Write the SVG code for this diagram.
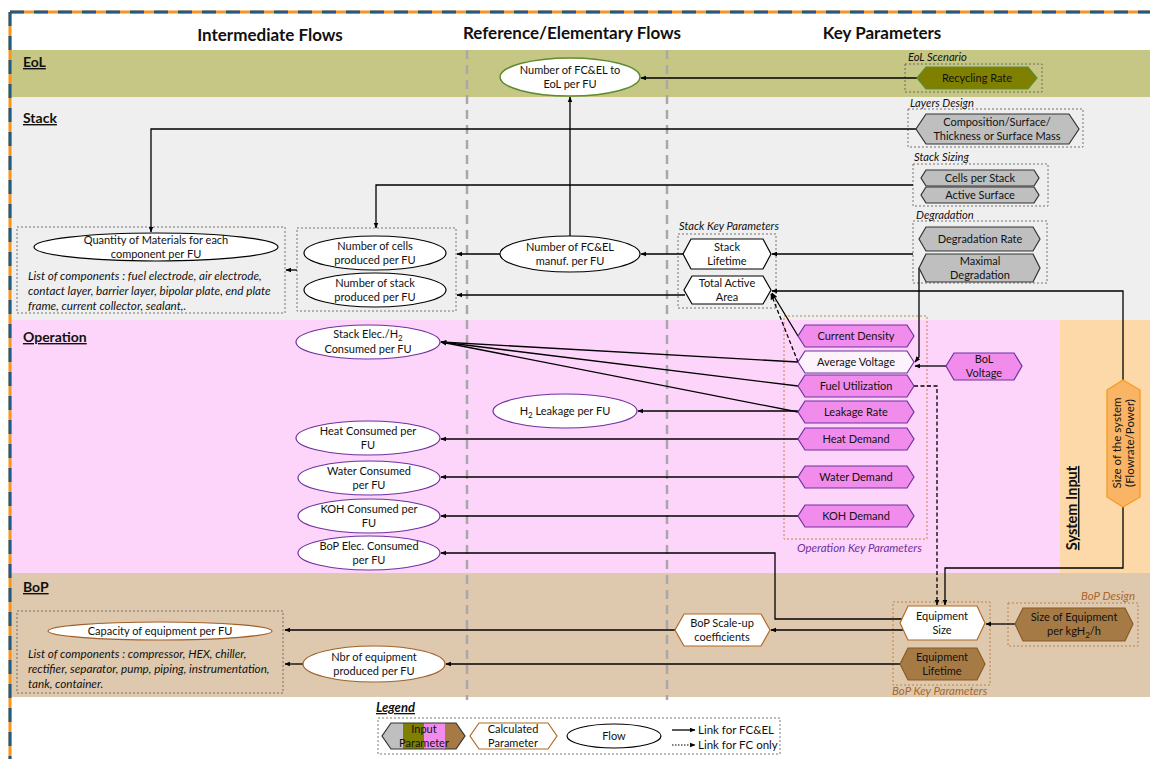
<svg xmlns="http://www.w3.org/2000/svg" width="1150" height="759" viewBox="0 0 1150 759">
<defs>
<marker id="a" viewBox="0 0 10 10" refX="9" refY="5" markerWidth="6" markerHeight="6" orient="auto" markerUnits="userSpaceOnUse"><path d="M0,1 L10,5 L0,9 z" fill="#000"/></marker>
<clipPath id="lg"><polygon points="391,723 456,723 465,736 456,749 391,749 382,736"/></clipPath>
</defs>
<style>
text{font-family:Lato,"Open Sans","Liberation Sans",sans-serif;fill:#111}
.t{font-size:11px;text-anchor:middle}
.h{font-size:17px;font-weight:bold;text-anchor:middle}
.sec{font-size:14px;font-weight:bold;text-decoration:underline}
.lab{font-size:11.2px;font-style:italic}
.lst{font-size:11.7px;font-style:italic}
.box{fill:none;stroke:#555;stroke-width:0.8;stroke-dasharray:2 2}
.obox{fill:none;stroke:#c0783a;stroke-width:0.9;stroke-dasharray:2 2}
.c{fill:none;stroke:#000;stroke-width:1.3}
.d{fill:none;stroke:#000;stroke-width:1.3;stroke-dasharray:4 2.5}
.gray{fill:#bfbfbf;stroke:#333;stroke-width:1.2}
.pink{fill:#f28cec;stroke:#7030a0;stroke-width:1.2}
.wp{fill:#fdf3fd;stroke:#7030a0;stroke-width:1.2}
.wb{fill:#fff;stroke:#000;stroke-width:1.2}
.brn{fill:#a67a45;stroke:#8a5a22;stroke-width:1.2}
.wbr{fill:#fff;stroke:#b06a25;stroke-width:1.2}
.ef{fill:#fff;stroke:#000;stroke-width:1.2}
.ep{fill:#fff;stroke:#7030a0;stroke-width:1.2}
.eb{fill:#fff;stroke:#a0602a;stroke-width:1.2}
.sep{stroke:#a8a8a8;stroke-width:2.5;stroke-dasharray:9 6}
</style>
<rect x="0" y="0" width="1150" height="759" fill="#fff"/>
<g id="bands">
<rect x="11" y="50" width="1139" height="47" fill="#c6c784"/>
<rect x="11" y="97" width="1139" height="223" fill="#efefef"/>
<rect x="11" y="320" width="1049" height="253" fill="#fdd5fa"/>
<rect x="1060" y="320" width="90" height="253" fill="#fdd8a9"/>
<rect x="11" y="573" width="1139" height="124" fill="#dfc9ae"/>
</g>
<g id="border">
<path d="M10,12 H1150 M10,12 V759" fill="none" stroke="#f7941d" stroke-width="3"/>
<path d="M10,12 H1150 M10,12 V759" fill="none" stroke="#1c5b8a" stroke-width="3" stroke-dasharray="14 10"/>
</g>
<g id="separators">
<line class="sep" x1="467" y1="50" x2="467" y2="700"/>
<line class="sep" x1="667" y1="50" x2="667" y2="700"/>
</g>
<g id="headers">
<text class="h" x="270" y="41">Intermediate Flows</text>
<text class="h" x="572" y="39">Reference/Elementary Flows</text>
<text class="h" x="882" y="39">Key Parameters</text>
<text class="sec" x="23" y="67">EoL</text>
<text class="sec" x="23" y="123">Stack</text>
<text class="sec" x="23" y="342">Operation</text>
<text class="sec" x="23" y="592">BoP</text>
<text class="sec" transform="translate(1077,508) rotate(-90)" text-anchor="middle" style="font-size:14.5px">System Input</text>
</g>
<g id="groups">
<rect class="box" x="905" y="64" width="137" height="28"/><text class="lab" x="908" y="61">EoL Scenario</text>
<rect class="box" x="908" y="109" width="175" height="38"/><text class="lab" x="910" y="107">Layers Design</text>
<rect class="box" x="913" y="164" width="135" height="42"/><text class="lab" x="914" y="161">Stack Sizing</text>
<rect class="box" x="913" y="221" width="134" height="62"/><text class="lab" x="916" y="219">Degradation</text>
<rect class="box" x="678" y="234" width="98" height="74"/><text class="lab" x="679" y="230">Stack Key Parameters</text>
<rect class="box" x="17" y="227" width="268" height="86"/>
<rect class="box" x="297" y="228" width="159" height="83"/>
<rect class="obox" x="784" y="316" width="143" height="223"/><text class="lab" x="797" y="552" style="fill:#7030a0;font-size:11.5px">Operation Key Parameters</text>
<rect class="obox" x="893" y="602" width="97" height="83"/><text class="lab" x="892" y="695" style="fill:#a8662a;font-size:11.5px">BoP Key Parameters</text>
<rect class="obox" x="1008" y="603" width="130" height="43"/><text class="lab" x="1135" y="600" text-anchor="end" style="fill:#a8662a;font-size:11.5px">BoP Design</text>
<rect class="box" x="17" y="611" width="266" height="82"/>
<text class="lst" x="28" y="280">List of components : fuel electrode, air electrode,</text>
<text class="lst" x="28" y="295">contact layer, barrier  layer, bipolar plate, end plate</text>
<text class="lst" x="28" y="310">frame, current collector, sealant,.</text>
<text class="lst" x="28" y="658">List of components : compressor, HEX, chiller,</text>
<text class="lst" x="28" y="673">rectifier, separator, pump, piping, instrumentation,</text>
<text class="lst" x="28" y="688">tank, container.</text>
</g>
<g id="connectors">
<path class="c" d="M917,78 H641" marker-end="url(#a)"/>
<path class="c" d="M570,236 V97" marker-end="url(#a)"/>
<path class="c" d="M916,129 H151 V232" marker-end="url(#a)"/>
<path class="c" d="M913,185 H376 V228" marker-end="url(#a)"/>
<path class="c" d="M913,254 H772" marker-end="url(#a)"/>
<path class="c" d="M683,254 H641" marker-end="url(#a)"/>
<path class="c" d="M500,254 H457" marker-end="url(#a)"/>
<path class="c" d="M685,295 H457" marker-end="url(#a)"/>
<path class="c" d="M297,270 H286" marker-end="url(#a)"/>
<path class="c" d="M919,268 V357 L915,362" marker-end="url(#a)"/>
<path class="c" d="M946,366 H915" marker-end="url(#a)"/>
<path class="c" d="M1123,380 V291 H772" marker-end="url(#a)"/>
<path class="c" d="M798,336 L772,293" marker-end="url(#a)"/>
<path class="d" d="M798,362 L771,294" marker-end="url(#a)"/>
<path class="c" d="M798,362 L441,342" marker-end="url(#a)"/>
<path class="c" d="M798,386 L441,342" marker-end="url(#a)"/>
<path class="c" d="M798,412 L441,342" marker-end="url(#a)"/>
<path class="c" d="M798,411 H638" marker-end="url(#a)"/>
<path class="c" d="M798,439 H441" marker-end="url(#a)"/>
<path class="c" d="M798,477 H441" marker-end="url(#a)"/>
<path class="c" d="M798,516 H441" marker-end="url(#a)"/>
<path class="c" d="M902,619 H775 V553 H441" marker-end="url(#a)"/>
<path class="d" d="M914,386 H937 V605" marker-end="url(#a)"/>
<path class="c" d="M1123,507 V568 H945 V605" marker-end="url(#a)"/>
<path class="c" d="M1015,624 H986" marker-end="url(#a)"/>
<path class="c" d="M903,630 H771" marker-end="url(#a)"/>
<path class="c" d="M675,630 H285" marker-end="url(#a)"/>
<path class="c" d="M900,664 H446" marker-end="url(#a)"/>
<path class="c" d="M303,664 H285" marker-end="url(#a)"/>
</g>
<g id="n-eol-flow"><ellipse cx="570" cy="77" rx="70" ry="19" fill="#fff" stroke="#5e8c31" stroke-width="1.5"/><text class="t" x="570" y="74">Number of FC&amp;EL to</text><text class="t" x="570" y="88">EoL per FU</text></g>
<g id="n-recycling"><polygon points="926,67 1028,67 1037,78 1028,89 926,89 917,78" fill="#808000" stroke="#5e8c31" stroke-width="1.2"/><text class="t" x="977" y="82">Recycling Rate</text></g>
<g id="n-composition"><polygon class="gray" points="926,114 1069,114 1079,129 1069,144 926,144 916,129"/><text class="t" x="997" y="126">Composition/Surface/</text><text class="t" x="997" y="140">Thickness or Surface Mass</text></g>
<g id="n-cells-stack"><polygon class="gray" points="926,170 1034,170 1039,178 1034,186 926,186 921,178"/><text class="t" x="980" y="182">Cells per Stack</text></g>
<g id="n-active-surface"><polygon class="gray" points="926,187 1034,187 1039,195 1034,203 926,203 921,195"/><text class="t" x="980" y="199">Active Surface</text></g>
<g id="n-deg-rate"><polygon class="gray" points="926,227 1033,227 1040,239 1033,251 926,251 919,239"/><text class="t" x="980" y="243">Degradation Rate</text></g>
<g id="n-max-deg"><polygon class="gray" points="926,254 1033,254 1040,268 1033,282 926,282 919,268"/><text class="t" x="980" y="265">Maximal</text><text class="t" x="980" y="279">Degradation</text></g>
<g id="n-stack-lifetime"><polygon class="wb" points="691,239 763,239 771,254 763,269 691,269 683,254"/><text class="t" x="727" y="251">Stack</text><text class="t" x="727" y="265">Lifetime</text></g>
<g id="n-total-area"><polygon class="wb" points="692,276 763,276 771,290 763,304 692,304 684,290"/><text class="t" x="727" y="287">Total Active</text><text class="t" x="727" y="301">Area</text></g>
<g id="n-fcel-manuf"><ellipse class="ef" cx="570" cy="254" rx="70" ry="18"/><text class="t" x="570" y="251">Number of FC&amp;EL</text><text class="t" x="570" y="265">manuf. per FU</text></g>
<g id="n-cells"><ellipse class="ef" cx="375" cy="253" rx="71" ry="17"/><text class="t" x="375" y="250">Number of cells</text><text class="t" x="375" y="264">produced per FU</text></g>
<g id="n-stacks"><ellipse class="ef" cx="375" cy="290" rx="71" ry="17"/><text class="t" x="375" y="287">Number of stack</text><text class="t" x="375" y="301">produced per FU</text></g>
<g id="n-materials"><ellipse class="ef" cx="156" cy="247" rx="122" ry="14"/><text class="t" x="156" y="244">Quantity of Materials for each</text><text class="t" x="156" y="258">component per FU</text></g>
<g id="n-current-density"><polygon class="pink" points="805,325 907,325 914,336 907,347 805,347 798,336"/><text class="t" x="856" y="340">Current Density</text></g>
<g id="n-avg-voltage"><polygon class="wp" points="805,351 907,351 914,362 907,373 805,373 798,362"/><text class="t" x="856" y="366">Average Voltage</text></g>
<g id="n-fuel-util"><polygon class="pink" points="805,375 907,375 914,386 907,397 805,397 798,386"/><text class="t" x="856" y="390">Fuel Utilization</text></g>
<g id="n-leakage"><polygon class="pink" points="805,401 907,401 914,412 907,423 805,423 798,412"/><text class="t" x="856" y="416">Leakage Rate</text></g>
<g id="n-heat"><polygon class="pink" points="805,428 907,428 914,439 907,450 805,450 798,439"/><text class="t" x="856" y="443">Heat Demand</text></g>
<g id="n-water"><polygon class="pink" points="805,466 907,466 914,477 907,488 805,488 798,477"/><text class="t" x="856" y="481">Water Demand</text></g>
<g id="n-koh"><polygon class="pink" points="805,505 907,505 914,516 907,527 805,527 798,516"/><text class="t" x="856" y="520">KOH Demand</text></g>
<g id="n-bol"><polygon class="pink" points="954,353 1014,353 1022,366 1014,380 954,380 946,366"/><text class="t" x="984" y="363">BoL</text><text class="t" x="984" y="377">Voltage</text></g>
<g id="n-size-system"><polygon points="1123,380 1140,390 1140,497 1123,507 1107,497 1107,390" fill="#f9b565" stroke="#f39b1e" stroke-width="1.3"/><text class="t" transform="translate(1123,443) rotate(-90)" y="-2" style="font-size:11.5px">Size of the system</text><text class="t" transform="translate(1123,443) rotate(-90)" y="11" style="font-size:11.5px">(Flowrate/Power)</text></g>
<g id="n-stack-elec"><ellipse class="ep" cx="368" cy="342" rx="72" ry="17"/><text class="t" x="368" y="338">Stack Elec./H<tspan dy="3" font-size="8">2</tspan></text><text class="t" x="368" y="353">Consumed per FU</text></g>
<g id="n-h2-leak"><ellipse class="ep" cx="565" cy="411" rx="72" ry="17"/><text class="t" x="565" y="415">H<tspan dy="3" font-size="8">2</tspan><tspan dy="-3"> Leakage per FU</tspan></text></g>
<g id="n-heat-cons"><ellipse class="ep" cx="368" cy="438" rx="72" ry="17"/><text class="t" x="368" y="435">Heat Consumed per</text><text class="t" x="368" y="449">FU</text></g>
<g id="n-water-cons"><ellipse class="ep" cx="369" cy="478" rx="71" ry="17"/><text class="t" x="369" y="475">Water Consumed</text><text class="t" x="369" y="489">per FU</text></g>
<g id="n-koh-cons"><ellipse class="ep" cx="369" cy="516" rx="71" ry="17"/><text class="t" x="369" y="513">KOH Consumed per</text><text class="t" x="369" y="527">FU</text></g>
<g id="n-bop-elec"><ellipse class="ep" cx="369" cy="553" rx="71" ry="17"/><text class="t" x="369" y="550">BoP Elec. Consumed</text><text class="t" x="369" y="564">per FU</text></g>
<g id="n-equip-size"><polygon class="wbr" points="908,606 977,606 985,623 977,640 908,640 900,623"/><text class="t" x="942" y="620">Equipment</text><text class="t" x="942" y="634">Size</text></g>
<g id="n-equip-life"><polygon class="brn" points="908,648 977,648 985,664 977,680 908,680 900,664"/><text class="t" x="942" y="661">Equipment</text><text class="t" x="942" y="675">Lifetime</text></g>
<g id="n-size-equip"><polygon class="brn" points="1023,608 1125,608 1133,624 1125,641 1023,641 1015,624"/><text class="t" x="1074" y="621">Size of Equipment</text><text class="t" x="1074" y="635">per kgH<tspan dy="3" font-size="8">2</tspan><tspan dy="-3">/h</tspan></text></g>
<g id="n-scaleup"><polygon class="wbr" points="684,614 761,614 770,630 761,646 684,646 675,630"/><text class="t" x="722" y="627">BoP Scale-up</text><text class="t" x="722" y="641">coefficients</text></g>
<g id="n-capacity"><ellipse class="eb" cx="160" cy="631" rx="112" ry="9"/><text class="t" x="160" y="635">Capacity of equipment per FU</text></g>
<g id="n-nbr-equip"><ellipse class="eb" cx="374" cy="664" rx="71" ry="18"/><text class="t" x="374" y="661">Nbr of equipment</text><text class="t" x="374" y="675">produced per FU</text></g>
<g id="legend">
<text x="376" y="712" style="font-size:13px;font-weight:bold;font-style:italic;text-decoration:underline">Legend</text>
<rect class="box" x="378" y="718" width="402" height="36"/>
<g clip-path="url(#lg)">
<rect x="382" y="723" width="21" height="26" fill="#bfbfbf"/>
<rect x="403" y="723" width="21" height="26" fill="#808000"/>
<rect x="424" y="723" width="21" height="26" fill="#f28cec"/>
<rect x="445" y="723" width="20" height="26" fill="#a67a45"/>
</g>
<polygon points="391,723 456,723 465,736 456,749 391,749 382,736" fill="none" stroke="#333" stroke-width="1.2"/>
<text class="t" x="424" y="733">Input</text><text class="t" x="424" y="747">Parameter</text>
<polygon class="wbr" points="479,723 548,723 557,736 548,749 479,749 470,736"/>
<text class="t" x="513" y="733">Calculated</text><text class="t" x="513" y="747">Parameter</text>
<ellipse class="ef" cx="614" cy="736" rx="47" ry="12"/><text class="t" x="614" y="740">Flow</text>
<path class="c" d="M672,730 H695" marker-end="url(#a)"/>
<path fill="none" stroke="#000" stroke-width="1.2" stroke-dasharray="1.5 1.5" d="M672,745 H695" marker-end="url(#a)"/>
<text x="698" y="734" style="font-size:11.5px">Link for FC&amp;EL</text>
<text x="698" y="749" style="font-size:11.5px">Link for FC only</text>
</g>
</svg>
